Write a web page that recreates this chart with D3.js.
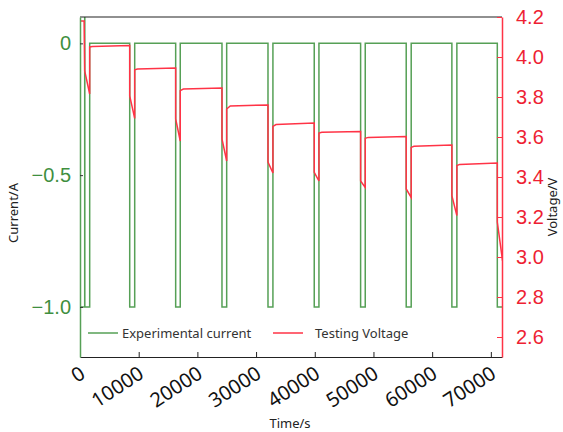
<!DOCTYPE html>
<html>
<head>
<meta charset="utf-8">
<script src="https://cdn.jsdelivr.net/npm/d3@7"></script>
<style>
  body { margin: 0; background: #fff; }
</style>
</head>
<body>
<div id="vis"></div>
<script>
// Chart data

// current trace [time s, current A]
const currentPoints = [
  [0, -1], [800, -1], [800, 0.15], [820, 0.15], [820, -1], [1650, -1], [1650, 0],
  [8470, 0], [8470, -1], [9320, -1], [9320, 0],
  [16300, 0], [16300, -1], [17080, -1], [17080, 0],
  [24190, 0], [24190, -1], [24990, -1], [24990, 0],
  [32030, 0], [32030, -1], [32870, -1], [32870, 0],
  [39910, 0], [39910, -1], [40710, -1], [40710, 0],
  [47810, 0], [47810, -1], [48600, -1], [48600, 0],
  [55580, 0], [55580, -1], [56430, -1], [56430, 0],
  [63360, 0], [63360, -1], [64210, -1], [64210, 0],
  [71100, 0], [71100, -1], [72000, -1]
]

// voltage trace [time s, voltage V]
const voltagePoints = [
  [0, 4.18], [700, 4.18], [800, 3.93], [1650, 3.815], [1650, 4.05], [2100, 4.052], [8470, 4.057],
  [8470, 3.806], [9320, 3.693], [9320, 3.936], [9800, 3.94], [16300, 3.945],
  [16300, 3.69], [17080, 3.58], [17080, 3.832], [17600, 3.84], [24190, 3.845],
  [24190, 3.59], [24990, 3.48], [24990, 3.74], [25600, 3.755], [32030, 3.76],
  [32030, 3.475], [32870, 3.42], [32870, 3.653], [33400, 3.662], [39910, 3.67],
  [39910, 3.423], [40710, 3.38], [40710, 3.62], [41200, 3.624], [47810, 3.628],
  [47810, 3.38], [48600, 3.348], [48600, 3.593], [49100, 3.598], [55580, 3.603],
  [55580, 3.34], [56430, 3.298], [56430, 3.548], [56900, 3.554], [63360, 3.56],
  [63360, 3.307], [64210, 3.207], [64210, 3.457], [64700, 3.463], [71100, 3.47],
  [71100, 3.175], [72000, 2.98]
]

const timeTicks = [0, 10000, 20000, 30000, 40000, 50000, 60000, 70000]
const currentTicks = [0, -0.5, -1.0]
const voltageTicks = [2.6, 2.8, 3.0, 3.2, 3.4, 3.6, 3.8, 4.0, 4.2]

const legendLabels = ['Experimental current', 'Testing Voltage']

// Layout
const W = 563, H = 432
const plot = {left: 80, right: 502, top: 17, bottom: 357}
const green = '#56a056'
const greenText = '#3f8f3f'
const red = '#ff3346'
const redText = '#ee1f33'

const x = d3.scaleLinear().domain([0, 71900]).range([plot.left, plot.right])
const yI = d3.scaleLinear().domain([-1.19, 0.1]).range([plot.bottom, plot.top])
const yV = d3.scaleLinear().domain([2.5, 4.2]).range([plot.bottom, plot.top])

const svg = d3.select('#vis').append('svg')
    .attr('width', W)
    .attr('height', H)

svg.append('clipPath').attr('id', 'clip')
  .append('rect')
    .attr('x', plot.left).attr('y', plot.top)
    .attr('width', plot.right - plot.left)
    .attr('height', plot.bottom - plot.top)

const g = svg.append('g').attr('clip-path', 'url(#clip)')

// current line
g.append('path')
    .datum(currentPoints)
    .attr('fill', 'none')
    .attr('stroke', green)
    .attr('stroke-width', 1.5)
    .attr('d', d3.line().x(d => x(d[0])).y(d => yI(d[1])))

// voltage line
g.append('path')
    .datum(voltagePoints)
    .attr('fill', 'none')
    .attr('stroke', red)
    .attr('stroke-width', 1.5)
    .attr('d', d3.line().x(d => x(d[0])).y(d => yV(d[1])))

// Axes
const fmtI = d => d === 0 ? '0' : d3.format('.1f')(d)

const axB = svg.append('g')
    .attr('transform', `translate(0,${plot.bottom})`)
    .call(d3.axisBottom(x).tickValues(timeTicks).tickFormat(d3.format('d')).tickSize(-5).tickSizeOuter(0))
axB.select('.domain').attr('stroke', '#222').attr('stroke-width', 1.2)
axB.selectAll('.tick line').attr('stroke', '#222')
axB.selectAll('text')
    .attr('font-family', 'Noto Sans, sans-serif')
    .attr('font-size', 20)
    .attr('fill', '#111')
    .attr('text-anchor', 'end')
    .attr('y', 0)
    .attr('dy', 0)
    .attr('transform', 'translate(6,20) rotate(-33)')

svg.append('line')
    .attr('x1', plot.left).attr('x2', plot.right)
    .attr('y1', plot.top).attr('y2', plot.top)
    .attr('stroke', '#222').attr('stroke-width', 1.2)

const axL = svg.append('g')
    .attr('transform', `translate(${plot.left},0)`)
    .call(d3.axisLeft(yI).tickValues(currentTicks).tickFormat(fmtI).tickSize(-3).tickSizeOuter(0).tickPadding(9))
axL.select('.domain').attr('stroke', green).attr('stroke-width', 1.5)
axL.selectAll('.tick line').attr('stroke', '#333')
axL.selectAll('text')
    .attr('font-family', 'Liberation Sans, Arial, sans-serif')
    .attr('font-size', 20)
    .attr('fill', greenText)

const axR = svg.append('g')
    .attr('transform', `translate(${plot.right},0)`)
    .call(d3.axisRight(yV).tickValues(voltageTicks).tickFormat(d3.format('.1f')).tickSize(-5).tickSizeOuter(0).tickPadding(14))
axR.select('.domain').attr('stroke', red).attr('stroke-width', 1.5)
axR.selectAll('.tick line').attr('stroke', red)
axR.selectAll('text')
    .attr('font-family', 'Liberation Sans, Arial, sans-serif')
    .attr('font-size', 20)
    .attr('fill', redText)

// Axis titles
svg.append('text')
    .attr('transform', 'translate(18,213) rotate(-90)')
    .attr('text-anchor', 'middle')
    .attr('font-family', 'Noto Sans, sans-serif')
    .attr('font-size', 13)
    .attr('fill', '#222')
    .text('Current/A')

svg.append('text')
    .attr('transform', 'translate(557,207) rotate(-90)')
    .attr('text-anchor', 'middle')
    .attr('font-family', 'Noto Sans, sans-serif')
    .attr('font-size', 13)
    .attr('fill', '#222')
    .text('Voltage/V')

svg.append('text')
    .attr('x', 290).attr('y', 428)
    .attr('text-anchor', 'middle')
    .attr('font-family', 'Noto Sans, sans-serif')
    .attr('font-size', 13)
    .attr('fill', '#222')
    .text('Time/s')

// Legend
const legend = svg.append('g')
const legendItems = [
  {label: legendLabels[0], color: green, x0: 88},
  {label: legendLabels[1], color: red, x0: 273}
]
legendItems.forEach(function(d){
  legend.append('line')
      .attr('x1', d.x0).attr('x2', d.x0 + 30)
      .attr('y1', 333).attr('y2', 333)
      .attr('stroke', d.color).attr('stroke-width', 1.5)
  legend.append('text')
      .attr('x', d.x0 + (d.color === green ? 34 : 42)).attr('y', 338)
      .attr('font-family', 'Noto Sans, sans-serif')
      .attr('font-size', 13)
      .attr('fill', '#333')
      .text(d.label)
})
</script>
</body>
</html>
